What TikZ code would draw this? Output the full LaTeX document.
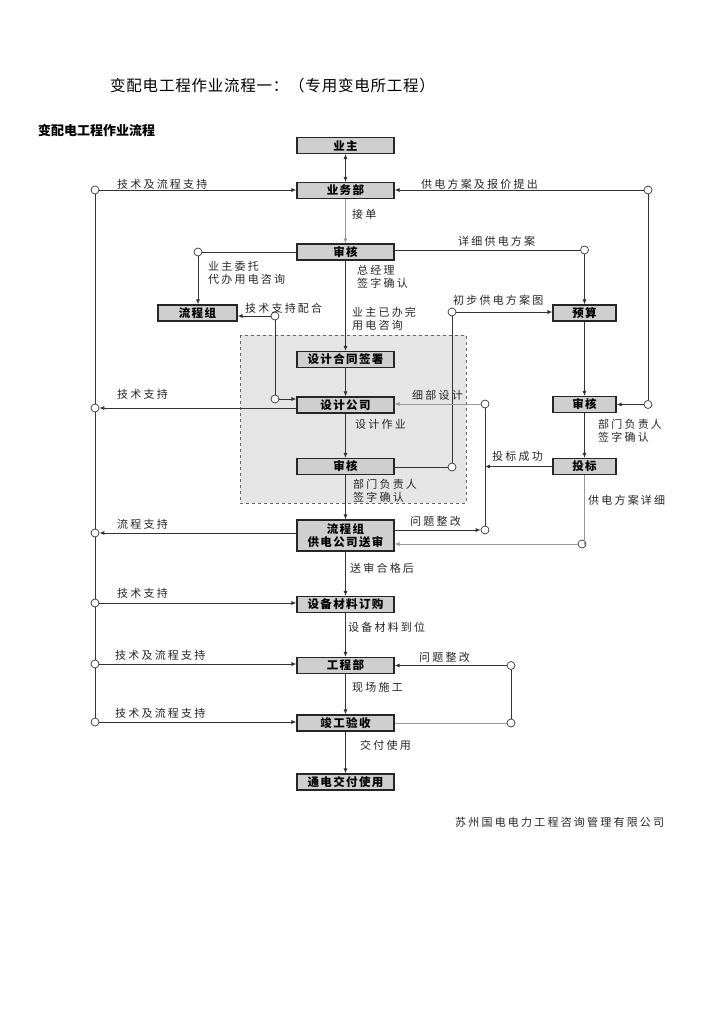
\documentclass[tikz,border=0pt]{standalone}
\usepackage{fontspec}
\usetikzlibrary{arrows.meta}
\newfontfamily\cjk{Noto Sans CJK SC}
\newfontfamily\titlefont{Noto Sans CJK SC}[LetterSpace=5]
\newfontfamily\lblfont{Noto Sans CJK SC}[LetterSpace=20]
\newfontfamily\bxfont{Noto Sans CJK SC}[LetterSpace=12]
\tikzset{
  box/.style={draw=black!85, line width=1.1pt, fill=gray!38, minimum width=97pt, minimum height=16pt, inner sep=0pt, font=\bxfont\fontsize{11.5}{13}\selectfont\bfseries},
  sbox/.style={box, minimum width=63pt},
  lbl/.style={font=\lblfont\fontsize{11}{13}\selectfont, inner sep=0pt, align=left, anchor=west, text=black!85},
  dot/.style={circle, draw=black!80, fill=white, line width=0.7pt, inner sep=0pt, minimum size=8pt},
  ln/.style={draw=black!80, line width=0.8pt},
  lg/.style={draw=black!40, line width=0.8pt},
  arr/.style={ln, -{Latex[length=5pt,width=4pt]}},
  arrg/.style={lg, -{Latex[length=5pt,width=4pt]}},
  arr2/.style={ln, {Latex[length=5pt,width=4pt]}-{Latex[length=5pt,width=4pt]}}
}
\begin{document}
\begin{tikzpicture}[x=1pt,y=-1pt]
\useasboundingbox (0,0) rectangle (724,1024);
\fill[white] (0,0) rectangle (724,1024);
% titles
\node[font=\titlefont\fontsize{15.5}{17}\selectfont, anchor=west, inner sep=0pt] (title) at (110,86) {变配电工程作业流程一：（专用变电所工程）};
\node[font=\cjk\fontsize{13}{15}\selectfont\bfseries, anchor=west, inner sep=0pt] (sub) at (38,130) {变配电工程作业流程};
\node[lbl] (footer) at (455,822) {苏州国电电力工程咨询管理有限公司};
% dashed region
\draw[dashed, draw=black!60, fill=gray!20, line width=0.6pt] (240,335) rectangle (466,503);
% main boxes
\node[box] (yz) at (345.5,145.5) {业主};
\node[box] (ywb) at (345.5,190.5) {业务部};
\node[box] (sh1) at (345.5,252) {审核};
\node[box, minimum width=79pt] (lcz1) at (197.5,313) {流程组};
\node[sbox] (ys) at (584.5,313) {预算};
\node[box] (htqs) at (345.5,359.5) {设计合同签署};
\node[box] (sjgs) at (345.5,405) {设计公司};
\node[box] (sh2) at (345.5,466.5) {审核};
\node[sbox] (sh3) at (584.5,404.5) {审核};
\node[sbox] (tb) at (584.5,466.5) {投标};
\node[box, minimum height=31pt, align=center] (lcz2) at (345.5,535.5) {流程组\\供电公司送审};
\node[box] (sbcl) at (345.5,604.5) {设备材料订购};
\node[box] (gcb) at (345.5,665.5) {工程部};
\node[box] (jgys) at (345.5,723) {竣工验收};
\node[box] (tdjf) at (345.5,782) {通电交付使用};
% circles
\node[dot] (L1) at (95,190) {};
\node[dot] (L2) at (95,408) {};
\node[dot] (L3) at (95,533) {};
\node[dot] (L4) at (95,603) {};
\node[dot] (L5) at (95,664) {};
\node[dot] (L6) at (95,722) {};
\node[dot] (R1) at (648,190) {};
\node[dot] (R2) at (648,404.5) {};
\node[dot] (C1) at (584.5,250) {};
\node[dot] (C2) at (452,312) {};
\node[dot] (C3) at (452,467) {};
\node[dot] (C4) at (485,404) {};
\node[dot] (C5) at (485,530) {};
\node[dot] (C6) at (582,544) {};
\node[dot] (C7) at (511,665.5) {};
\node[dot] (C8) at (511,723) {};
\node[dot] (C9) at (198,252) {};
\node[dot] (C10) at (275,316) {};
\node[dot] (C11) at (275,399) {};
\coordinate (T1) at (485,466.5);
% left trunk
\draw[ln] (L1) -- (L2);
\draw[ln] (L2) -- (L3);
\draw[ln] (L3) -- (L4);
\draw[ln] (L4) -- (L5);
\draw[ln] (L5) -- (L6);
\draw[arr] (L1) -- (L1 -| ywb.west);
\draw[arr] (L2 -| sjgs.west) -- (L2);
\draw[arr] (L3 -| lcz2.west) -- (L3);
\draw[arr] (L4) -- (L4 -| sbcl.west);
\draw[arr] (L5) -- (L5 -| gcb.west);
\draw[arr] (L6) -- (L6 -| jgys.west);
\node[lbl] at (117,184) {技术及流程支持};
\node[lbl] at (117,394) {技术支持};
\node[lbl] at (117,524) {流程支持};
\node[lbl] at (117,593) {技术支持};
\node[lbl] at (115,655) {技术及流程支持};
\node[lbl] at (115,713) {技术及流程支持};
% main column
\draw[arr2] (yz.south) -- (ywb.north);
\draw[arrg] (ywb.south) -- (sh1.north);
\draw[arr] (sh1.south) -- (htqs.north);
\draw[arr] (htqs.south) -- (sjgs.north);
\draw[arr] (sjgs.south) -- (sh2.north);
\draw[arr] (sh2.south) -- (lcz2.north);
\draw[arr] (lcz2.south) -- (sbcl.north);
\draw[arr] (sbcl.south) -- (gcb.north);
\draw[arr] (gcb.south) -- (jgys.north);
\draw[arr] (jgys.south) -- (tdjf.north);
\node[lbl] at (352,214) {接单};
\node[lbl] at (357,276.5) {总经理\\签字确认};
\node[lbl] at (352,318.5) {业主已办完\\用电咨询};
\node[lbl] at (355,424) {设计作业};
\node[lbl] at (353,490.5) {部门负责人\\签字确认};
\node[lbl] at (350,568) {送审合格后};
\node[lbl] at (348,627) {设备材料到位};
\node[lbl] at (352,687) {现场施工};
\node[lbl] at (360,745) {交付使用};
% right side
\draw[arr] (R1) -- (R1 -| ywb.east);
\draw[ln] (R1) -- (R2);
\draw[arr] (R2) -- (sh3.east);
\node[lbl] at (421,184) {供电方案及报价提出};
\draw[ln] (C1 -| sh1.east) -- (C1);
\draw[arr] (C1) -- (ys.north);
\node[lbl] at (458,241) {详细供电方案};
\draw[arr] (C2) -- (C2 -| ys.west);
\node[lbl] at (453,300) {初步供电方案图};
\draw[ln] (C3 -| sh2.east) -- (C3);
\draw[ln] (C3) -- (C2);
\draw[arrg] (C4) -- (C4 -| sjgs.east);
\node[lbl] at (412,395) {细部设计};
\draw[ln] (C4) -- (C5);
\draw[arr] (C5 -| lcz2.east) -- (C5);
\node[lbl] at (410,521) {问题整改};
\draw[arr] (tb.west) -- (T1);
\node[lbl] at (492,456) {投标成功};
\draw[arr] (ys.south) -- (sh3.north);
\draw[arr] (sh3.south) -- (tb.north);
\node[lbl] at (598,430.5) {部门负责人\\签字确认};
\draw[lg] (tb.south) -- (tb.south |- C6) -- (C6);
\draw[arrg] (C6) -- (C6 -| lcz2.east);
\node[lbl] at (588,500) {供电方案详细};
\draw[arr] (C7) -- (C7 -| gcb.east);
\node[lbl] at (419,657) {问题整改};
\draw[ln] (C7) -- (C8);
\draw[lg] (C8 -| jgys.east) -- (C8);
% left upper
\draw[ln] (sh1.west) -- (C9);
\draw[arr] (C9) -- (lcz1.north -| C9);
\node[lbl] at (208,273) {业主委托\\代办用电咨询};
\draw[arr] (C10) -- (C10 -| lcz1.east);
\node[lbl] at (245,308) {技术支持配合};
\draw[ln] (C10) -- (C11);
\draw[arr] (C11) -- (C11 -| sjgs.west);
\end{tikzpicture}
\end{document}
